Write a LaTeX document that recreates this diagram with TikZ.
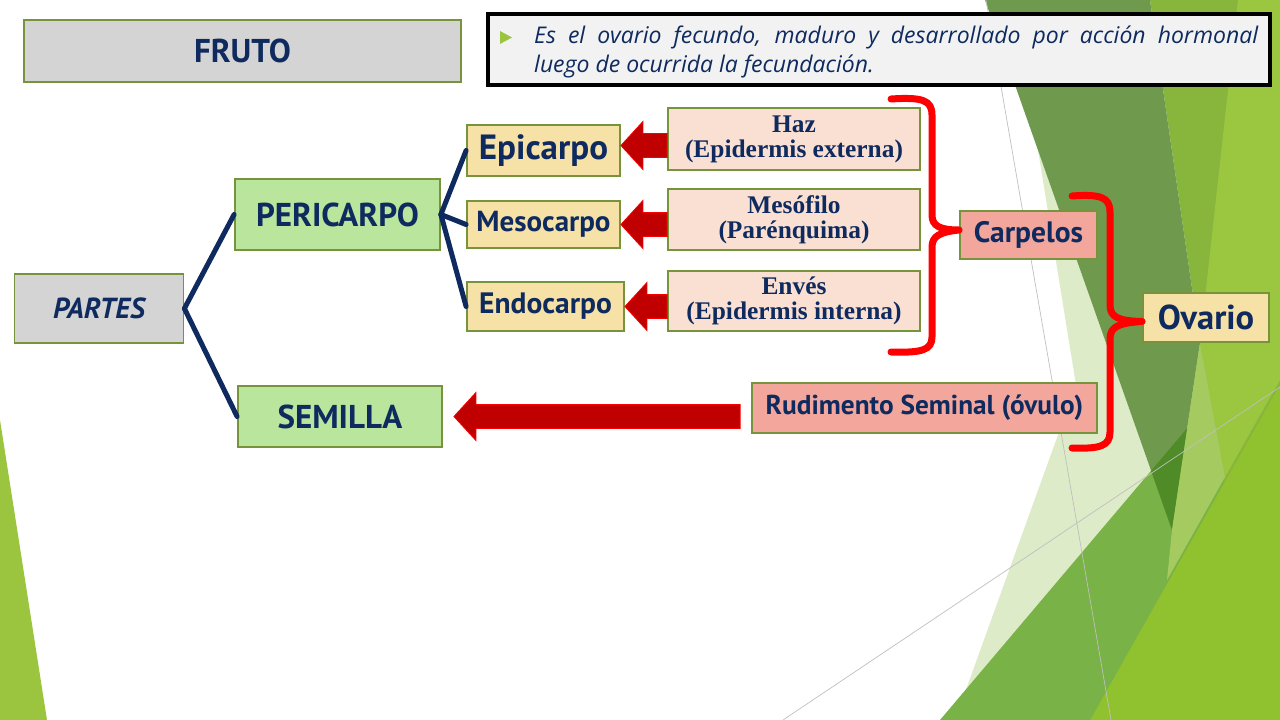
\documentclass[tikz,border=0pt]{standalone}
\usepackage{fontspec}
\setmainfont{PT Sans}
\newfontfamily\timesfont{Liberation Serif}
\newfontfamily\notefont{Open Sans}
\usetikzlibrary{calc}
\definecolor{navy}{HTML}{0E2A5E}
\definecolor{boxedge}{HTML}{77933C}
\definecolor{grayfill}{HTML}{D4D4D4}
\definecolor{peri}{HTML}{B9E59D}
\definecolor{wheat}{HTML}{F6E1A6}
\definecolor{peach}{HTML}{FAE0D3}
\definecolor{salmon}{HTML}{F2A69C}
\definecolor{arrowred}{HTML}{C00000}
\definecolor{leafA}{HTML}{9BC53F}
\definecolor{leafpale}{HTML}{DEEBC8}
\definecolor{leafmid}{HTML}{79B246}
\definecolor{leafyellow}{HTML}{90C12F}
\definecolor{leafgrass}{HTML}{88B63C}
\definecolor{leaflight}{HTML}{9BC640}
\definecolor{leafstrip}{HTML}{A5CB60}
\definecolor{leafdark}{HTML}{6F9A4E}
\definecolor{leafdeep}{HTML}{4F8C28}
\tikzset{
  box/.style={draw=boxedge, line width=1.8pt, inner sep=0pt, text=navy},
  serifbox/.style={box, fill=peach, minimum width=252pt, align=center,
    font=\timesfont\bfseries\fontsize{25.4}{25}\selectfont},
  branch/.style={draw=navy, line width=5pt, line cap=round},
  brace/.style={draw=red, line width=7pt, line cap=round, line join=round},
  hairline/.style={draw=black!25, line width=0.7pt},
  note/.style={anchor=base west, inner sep=0pt, text=navy,
    font=\notefont\itshape\fontsize{23}{23}\selectfont}
}
% block arrow from #1 (tail) to #2 (tip), pointing left
\newcommand{\redarrow}[2]{%
  \filldraw[fill=arrowred, draw=red!90!arrowred, line width=0.8pt]
    let \p1=(#1), \p2=(#2) in
    (\x2,\y2) -- (\x2+22pt,\y2+24pt) -- (\x2+22pt,\y2+12pt) -- (\x1,\y1+12pt)
    -- (\x1,\y1-12pt) -- (\x2+22pt,\y2-12pt) -- (\x2+22pt,\y2-24pt) -- cycle;}
\begin{document}
\begin{tikzpicture}[x=1pt,y=-1pt]
\useasboundingbox (0,0) rectangle (1280,720);
% background facets
\fill[leafA] (0,420) -- (47,720) -- (0,720) -- cycle;
\fill[leafpale] (1038,150) -- (1076,385) -- (955,720) -- (1150,720) -- (1172,530) -- cycle;
\fill[leafgrass] (1150,0) -- (1280,0) -- (1280,720) -- (1090,720) -- (1172,530) -- (1200,343) -- cycle;
\fill[leafyellow] (1090,720) -- (1280,385) -- (1280,720) -- cycle;
\fill[leaflight] (1238,0) -- (1280,0) -- (1280,380) -- (1225,477) -- (1200,343) -- cycle;
\fill[leafmid] (940,720) -- (1200,413) -- (1224,482) -- (1090,720) -- cycle;
\fill[leafdark] (985,0) -- (1150,0) -- (1200,343) -- (1172,530) -- cycle;
\begin{scope}
  \clip (985,0) -- (1150,0) -- (1200,343) -- (1172,530) -- cycle;
  \fill[leafdeep] (940,720) -- (1200,413) -- (1224,482) -- (1090,720) -- cycle;
\end{scope}
\fill[leafstrip] (1200,343) -- (1225,477) -- (1167,580) -- (1172,530) -- cycle;
\draw[hairline] (986,0) -- (1111,720);
\draw[hairline] (783,720) -- (1280,387);
% title and definition
\node[box, fill=grayfill, minimum width=437pt, minimum height=62pt,
  font=\bfseries\fontsize{33}{33}\selectfont] (fruto) at (242.5,51) {FRUTO};
\node[draw=black, line width=4pt, fill=black!5, minimum width=782pt,
  minimum height=71pt] (def) at (879,49.5) {};
\fill[leafA] (500,31) -- (512,37.5) -- (500,44) -- cycle;
\node[note] (defa) at (534,43)
  {\makebox[724pt][s]{Es el ovario fecundo, maduro y desarrollado por acción hormonal}};
\node[note] (defb) at (534,72) {luego de ocurrida la fecundación.};
% left tree
\node[box, fill=grayfill, minimum width=169pt, minimum height=69pt,
  font=\bfseries\itshape\fontsize{29}{29}\selectfont] (partes) at (99,308.5) {PARTES};
\node[box, fill=peri, minimum width=205pt, minimum height=71pt,
  font=\bfseries\fontsize{33}{33}\selectfont] (peri) at (337.5,214.5) {PERICARPO};
\node[box, fill=peri, minimum width=204pt, minimum height=61pt,
  font=\bfseries\fontsize{33}{33}\selectfont] (semilla) at (340,416.5) {SEMILLA};
\node[box, fill=wheat, minimum width=153pt, minimum height=51pt,
  font=\bfseries\fontsize{35}{35}\selectfont] (epi) at (543.5,150.5) {Epicarpo};
\node[box, fill=wheat, minimum width=153pt, minimum height=47pt,
  font=\bfseries\fontsize{29}{29}\selectfont] (meso) at (543.5,224.5) {Mesocarpo};
\node[box, fill=wheat, minimum width=157pt, minimum height=49pt,
  font=\bfseries\fontsize{29.5}{29.5}\selectfont] (endo) at (545.5,306.5) {Endocarpo};
\draw[branch] (partes.east) -- (peri.west);
\draw[branch] (partes.east) -- (semilla.west);
\draw[branch] (peri.east) -- (epi.west);
\draw[branch] (peri.east) -- (meso.west);
\draw[branch] (peri.east) -- (endo.west);
% leaf tissues
\node[serifbox, minimum height=62pt] (haz) at (794,139) {Haz\\(Epidermis externa)};
\node[serifbox, minimum height=61pt] (mesof) at (794,219.5) {Mesófilo\\(Parénquima)};
\node[serifbox, minimum height=60pt] (enves) at (794,301) {Envés\\(Epidermis interna)};
\coordinate (epitip) at ([yshift=5pt]epi.east);
\redarrow{epitip -| haz.west}{epitip}
\redarrow{meso.east -| mesof.west}{meso.east}
\redarrow{endo.east -| enves.west}{endo.east}
% carpels, ovary and ovule
\node[box, fill=salmon, minimum width=137pt, minimum height=48pt,
  font=\bfseries\fontsize{29.5}{29.5}\selectfont] (carp) at (1028.5,235) {Carpelos};
\node[box, fill=wheat, minimum width=126pt, minimum height=49pt,
  font=\bfseries\fontsize{34.5}{34.5}\selectfont] (ova) at (1206,317.5) {Ovario};
\node[box, fill=salmon, minimum width=345pt, minimum height=50pt,
  font=\bfseries\fontsize{27.3}{27.3}\selectfont] (rud) at (924.5,408) {Rudimento Seminal (óvulo)};
\coordinate (semtip) at ([xshift=11pt]semilla.east);
\coordinate (rudtail) at ([xshift=-11pt]rud.west);
\redarrow{semtip -| rudtail}{semtip}
% braces
\draw[brace] (891,99) .. controls (922,97) and (932,100) .. (932,115) -- (932,215)
  .. controls (932,226) and (940,230) .. ([yshift=5pt]carp.west)
  .. controls (940,232) and (932,236) .. (932,247) -- (932,337)
  .. controls (932,350) and (922,353) .. (891,352);
\draw[brace] (1072,196) .. controls (1100,194) and (1110,197) .. (1110,212) -- (1110,305)
  .. controls (1110,317) and (1118,321) .. ([yshift=-4pt]ova.west)
  .. controls (1118,323) and (1110,327) .. (1110,339) -- (1110,432)
  .. controls (1110,446) and (1100,449) .. (1072,448);
\end{tikzpicture}
\end{document}
